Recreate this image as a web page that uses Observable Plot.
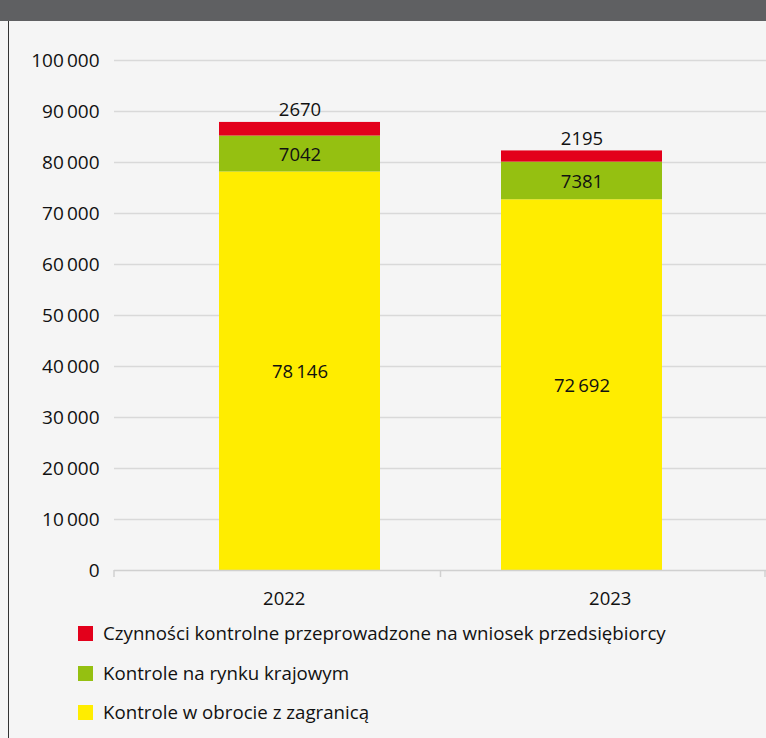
<!DOCTYPE html>
<html><head><meta charset="utf-8">
<script src="https://cdn.jsdelivr.net/npm/d3@7"></script>
<script src="https://cdn.jsdelivr.net/npm/@observablehq/plot@0.6"></script>
<style>
html,body{margin:0;padding:0;background:#f5f5f5;width:766px;height:738px;overflow:hidden;font-family:"Open Sans",sans-serif;color:#111}
#hdr{position:absolute;left:0;top:0;width:766px;height:21px;background:#5f6062}
#border{position:absolute;left:8px;top:21px;width:1px;height:717px;background:#333;z-index:2}
#chart{position:absolute;left:0;top:21px}
#legend{position:absolute;left:78px;top:0}
.item{position:absolute;left:0;display:flex;align-items:center;white-space:nowrap;font-size:18.7px;line-height:24px;height:24px}
.sw{width:15px;height:15px;margin-right:10px;flex:none}
</style></head><body>
<div id="hdr"></div>
<div id="border"></div>
<div id="chart"></div>
<div id="legend"></div>
<script>
const years = ["2022", "2023"];
const series = [
  "Czynności kontrolne przeprowadzone na wniosek przedsiębiorcy",
  "Kontrole na rynku krajowym",
  "Kontrole w obrocie z zagranicą"
];
const onRequest = [2670, 2195];
const domestic = [7042, 7381];
const foreign = [78146, 72692];
const colors = ["#e3001b", "#95c011", "#ffed00"];
const yTicks = [0, 10000, 20000, 30000, 40000, 50000, 60000, 70000, 80000, 90000, 100000];

const fmt = v => v >= 10000 ? d3.format(",")(v).replace(/,/g, "\u2009") : String(v);

// stacking order: bottom -> top
const rows = [];
years.forEach((yr, i) => {
  rows.push({year: yr, series: series[2], value: foreign[i]});
  rows.push({year: yr, series: series[1], value: domestic[i]});
  rows.push({year: yr, series: series[0], value: onRequest[i]});
});

const chart = Plot.plot({
  width: 766, height: 600,
  marginLeft: 114, marginRight: 0, marginTop: 39, marginBottom: 51,
  style: {background: "transparent", fontFamily: "Open Sans, sans-serif", fontSize: "18.5px", color: "#111"},
  x: {type: "band", domain: years, range: [97, 784], padding: 0.4276, axis: null},
  y: {domain: [0, 100000], axis: null},
  color: {domain: series, range: colors},
  marks: [
    Plot.ruleY(yTicks.filter(d => d > 0), {stroke: "#d9d9d9", strokeWidth: 1.5}),
    Plot.axisY(yTicks, {tickFormat: fmt, tickSize: 0, tickPadding: 15, label: null, fontSize: 19, fill: "#111"}),
    Plot.barY(rows, {x: "year", y: "value", fill: "series"}),
    Plot.ruleY([0], {stroke: "#d0d0d0", strokeWidth: 1.5}),
    Plot.text(rows, Plot.stackY({x: "year", y: "value",
      text: d => d.series === series[0] ? "" : fmt(d.value), fill: "#111", fontSize: 18.5, dy: 1})),
    Plot.text(rows, Plot.stackY2({x: "year", y: "value",
      text: d => d.series === series[0] ? fmt(d.value) : "", fill: "#111", fontSize: 18.5, dy: -12}))
  ]
});
document.getElementById("chart").appendChild(chart);

// category separator ticks and x labels, positioned from Plot's x scale
const xs = chart.scale("x");
const ys = chart.scale("y");
const centers = years.map(y => xs.apply(y) + xs.bandwidth / 2);
const left = 114, right = 766;
const sep = (centers[0] + centers[1]) / 2;
const y0 = ys.apply(0);
const svg = d3.select(chart);
const g = svg.append("g");
[left, sep, right - 1].forEach(x => {
  g.append("line").attr("x1", x).attr("x2", x).attr("y1", y0).attr("y2", y0 + 7)
    .attr("stroke", "#d0d0d0").attr("stroke-width", 1.5);
});
const mids = [(left + sep) / 2, (sep + right) / 2];
years.forEach((yr, i) => {
  g.append("text").attr("x", mids[i] + 7).attr("y", y0 + 30)
    .attr("text-anchor", "middle").attr("dominant-baseline", "middle")
    .attr("font-size", 18.5).attr("fill", "#111").text(yr);
});

// legend
const legend = document.getElementById("legend");
const legendCenters = [633, 673, 712];
series.forEach((s, i) => {
  const it = document.createElement("div");
  it.className = "item";
  it.style.top = (legendCenters[i] - 12) + "px";
  const sw = document.createElement("div");
  sw.className = "sw";
  sw.style.background = colors[i];
  const tx = document.createElement("span");
  tx.textContent = s;
  it.appendChild(sw); it.appendChild(tx);
  legend.appendChild(it);
});
</script>
</body></html>
